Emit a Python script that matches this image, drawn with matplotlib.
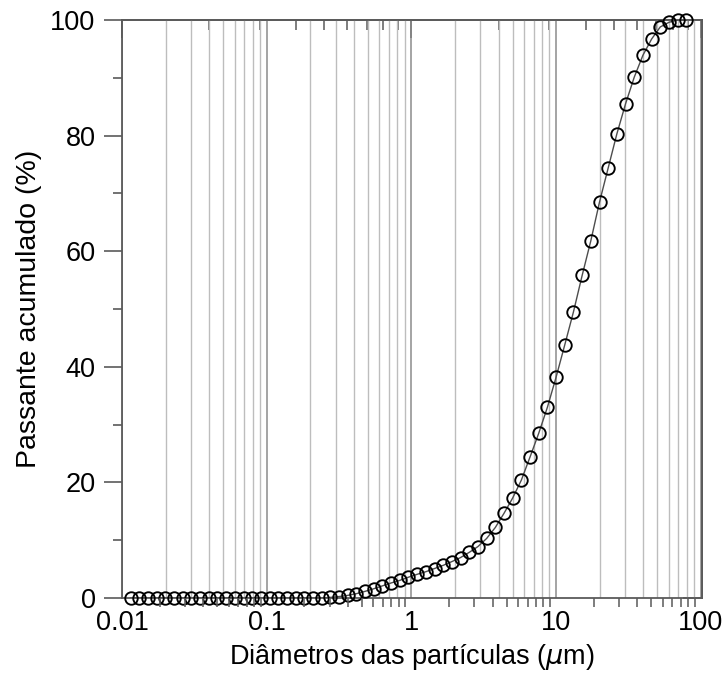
import matplotlib
matplotlib.use("Agg")
import matplotlib.pyplot as plt
from matplotlib.ticker import FixedLocator, LogLocator, NullFormatter
import numpy as np

plt.rcParams['font.family'] = ['Liberation Sans', 'DejaVu Sans']

# classes de tamanho (um) e passante acumulado (%)
diametros = [0.011482, 0.013183, 0.015136, 0.017378, 0.019953, 0.022909, 0.026303,
             0.030200, 0.034674, 0.039811, 0.045709, 0.052481, 0.060256, 0.069183,
             0.079433, 0.091201, 0.104713, 0.120226, 0.138038, 0.158489, 0.181970,
             0.208930, 0.239883, 0.275423, 0.316228, 0.363078, 0.416869, 0.478630,
             0.549541, 0.630957, 0.724436, 0.831764, 0.954993, 1.096478, 1.258925,
             1.445440, 1.659587, 1.905461, 2.187762, 2.511886, 2.884031, 3.311311,
             3.801894, 4.365158, 5.011872, 5.754399, 6.606934, 7.585776, 8.709636,
             10.0, 11.481536, 13.182567, 15.135612, 17.378008, 19.952623, 22.908677,
             26.302680, 30.199517, 34.673685, 39.810717, 45.708819, 52.480746,
             60.255959, 69.183097, 79.432823]
passante = [0.0, 0.0, 0.0, 0.0, 0.0, 0.0, 0.0,
            0.0, 0.0, 0.0, 0.0, 0.0, 0.0, 0.0,
            0.0, 0.0, 0.0, 0.0, 0.0, 0.0, 0.0,
            0.0, 0.0, 0.1, 0.25, 0.45, 0.75, 1.15,
            1.6, 2.1, 2.6, 3.05, 3.6, 4.1, 4.55,
            5.1, 5.65, 6.3, 7.0, 7.9, 8.9, 10.3,
            12.2, 14.65, 17.3, 20.4, 24.4, 28.5, 33.0,
            38.2, 43.8, 49.5, 55.8, 61.8, 68.5, 74.4,
            80.3, 85.5, 90.1, 93.9, 96.7, 98.8,
            99.6, 100.0, 100.0]

xticks = [0.01, 0.1, 1, 10, 100]
xticklabels = ['0.01', '0.1', '1', '10', '100']
yticks = [0, 20, 40, 60, 80, 100]
xlo, xhi = 0.01, 102.0

cor_eixo = '#5a5a5a'

fig = plt.figure(figsize=(7.26, 6.78), dpi=100)
ax = fig.add_axes([0.168, 0.118, 0.799, 0.8525])
ax.set_xscale('log')
ax.set_xlim(xlo, xhi)
ax.set_ylim(0, 100)

ax.plot(diametros, passante, '-', color='#4d4d4d', lw=1.0, zorder=3)
ax.plot(diametros, passante, 'o', mfc='none', mec='black', ms=9, mew=1.35,
        clip_on=False, zorder=4)

# grade vertical
ax.xaxis.set_major_locator(FixedLocator(xticks))
ax.set_xticklabels(xticklabels)
ax.xaxis.set_minor_locator(LogLocator(base=10, subs=np.arange(2, 10)))
ax.xaxis.set_minor_formatter(NullFormatter())
ax.grid(True, which='major', axis='x', color='#8c8c8c', lw=1.1, zorder=1)
ax.grid(True, which='minor', axis='x', color='#bdbdbd', lw=1.0, zorder=1)
ax.tick_params(axis='x', which='both', length=0, pad=9, labelsize=19.5)

ax.set_yticks(yticks)
ax.yaxis.set_minor_locator(FixedLocator([10, 30, 50, 70, 90]))
ax.tick_params(axis='y', which='major', direction='out', length=13, width=1.2,
               color=cor_eixo, labelsize=19.5, pad=6)
ax.tick_params(axis='y', which='minor', direction='out', length=6.5, width=1.2,
               color=cor_eixo)

for s in ax.spines.values():
    s.set_color(cor_eixo)
    s.set_linewidth(1.3)

# marcas do eixo inferior (levemente deslocadas como no original)
axb = fig.add_axes(ax.get_position(), frameon=False)
f = 10 ** (6 / 145)
axb.set_xscale('log')
axb.set_xlim(xlo * f, xhi * f)
axb.yaxis.set_visible(False)
axb.xaxis.set_major_locator(LogLocator(base=10))
axb.xaxis.set_minor_locator(LogLocator(base=10, subs=np.arange(2, 10)))
axb.tick_params(axis='x', which='both', direction='out', length=6.5, width=1.1,
                color=cor_eixo, labelbottom=False)
axb.patch.set_visible(False)

# marcas superiores
sec = ax.secondary_xaxis('top')
sec.set_xticks([0.01, 1, 100])
sec.xaxis.set_minor_locator(FixedLocator([0.01 * n * n for n in range(2, 10)] +
                                         [n * n for n in range(2, 10)]))
sec.tick_params(which='major', direction='in', length=13, width=1.3, color=cor_eixo,
                labeltop=False)
sec.tick_params(which='minor', direction='in', length=7, width=1.1, color=cor_eixo)
sec.xaxis.set_minor_formatter(NullFormatter())
sec.spines['top'].set_color(cor_eixo)
sec.spines['top'].set_linewidth(1.3)

secy = ax.secondary_yaxis('right')
secy.set_yticks([0, 100])
secy.tick_params(direction='in', length=14, width=1.3, color=cor_eixo, labelright=False)
secy.spines['right'].set_color(cor_eixo)
secy.spines['right'].set_linewidth(1.3)

ax.set_xlabel('Diâmetros das partículas ($\\mu$m)', fontsize=19.5, labelpad=4)
ax.set_ylabel('Passante acumulado (%)', fontsize=20.5, labelpad=6)

fig.savefig('out.png', dpi=100)
